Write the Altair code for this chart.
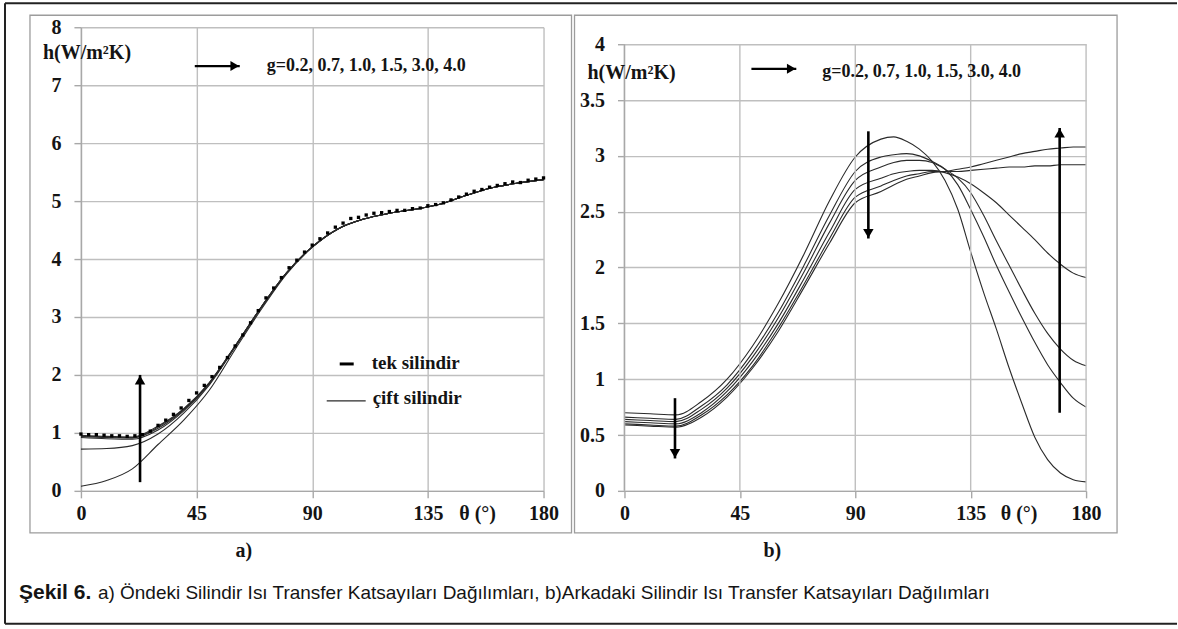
import altair as alt
import pandas as pd

SERIF = "Liberation Serif"
SANS = "Liberation Sans"
INK = "#141414"
CURVE = "#2a2a2a"
GRID = "#bfbfbf"
AXC = "#a8a8a8"
FRAME = "#9c9c9c"

G_VALUES = ["0.2", "0.7", "1.0", "1.5", "3.0", "4.0"]
X_TICKS = [0, 45, 90, 135, 180]
A_Y_TICKS = [0, 1, 2, 3, 4, 5, 6, 7, 8]
B_Y_TICKS = [0, 0.5, 1, 1.5, 2, 2.5, 3, 3.5, 4]

# ---------------- panel a) front cylinder ----------------
A_THETA = [0, 10, 20, 30, 40, 50, 60, 70, 80, 90, 100, 110, 120, 130, 140, 150, 160, 170, 180]
A_H_G02 = [0.08, 0.18, 0.38, 0.80, 1.22, 1.74, 2.44, 3.12, 3.74, 4.20, 4.52, 4.69, 4.79, 4.86, 4.95, 5.10, 5.23, 5.31, 5.37]
A_H_G07 = [0.72, 0.73, 0.78, 0.98, 1.34, 1.83, 2.48, 3.15, 3.76, 4.21, 4.52, 4.69, 4.79, 4.86, 4.95, 5.10, 5.23, 5.31, 5.37]
A_H_G10 = [0.92, 0.90, 0.89, 1.05, 1.38, 1.85, 2.49, 3.16, 3.76, 4.21, 4.52, 4.69, 4.79, 4.86, 4.95, 5.10, 5.23, 5.31, 5.37]
A_H_G15 = [0.94, 0.92, 0.91, 1.08, 1.40, 1.86, 2.50, 3.16, 3.76, 4.21, 4.52, 4.69, 4.79, 4.86, 4.95, 5.10, 5.23, 5.31, 5.37]
A_H_G30 = [0.95, 0.93, 0.92, 1.10, 1.41, 1.87, 2.50, 3.16, 3.76, 4.21, 4.52, 4.69, 4.79, 4.86, 4.95, 5.10, 5.23, 5.31, 5.37]
A_H_G40 = [0.96, 0.94, 0.93, 1.12, 1.42, 1.87, 2.50, 3.16, 3.76, 4.21, 4.52, 4.69, 4.79, 4.86, 4.95, 5.10, 5.23, 5.31, 5.37]

TEK_THETA = [0, 3, 6, 9, 12, 15, 18, 21, 24, 27, 30, 33, 36, 39, 42, 45, 48, 51, 54, 57, 60,
             63, 66, 69, 72, 75, 78, 81, 84, 87, 90, 93, 96, 99, 102, 105, 108, 111, 114, 117, 120,
             123, 126, 129, 132, 135, 138, 141, 144, 147, 150, 153, 156, 159, 162, 165, 168, 171, 174, 177, 180]
TEK_H = [0.98, 0.97, 0.97, 0.96, 0.95, 0.95, 0.94, 0.95, 0.97, 1.03, 1.13, 1.22, 1.32, 1.43, 1.56, 1.69, 1.82, 1.97, 2.13, 2.30, 2.50,
         2.69, 2.90, 3.11, 3.33, 3.50, 3.68, 3.85, 3.98, 4.12, 4.24, 4.35, 4.45, 4.55, 4.62, 4.70, 4.72, 4.76, 4.79, 4.80, 4.82,
         4.84, 4.84, 4.87, 4.88, 4.92, 4.94, 4.97, 5.02, 5.07, 5.12, 5.17, 5.20, 5.24, 5.27, 5.30, 5.33, 5.32, 5.36, 5.38, 5.40]

# ---------------- panel b) rear cylinder ----------------
B_THETA = [0, 10, 20, 30, 40, 50, 60, 70, 80, 90, 100, 105, 110, 115, 120, 125, 130, 135, 140, 145, 150, 155, 160, 165, 170, 175, 180]
B_H_G02 = [0.70, 0.69, 0.68, 0.80, 1.00, 1.30, 1.68, 2.12, 2.60, 2.99, 3.15, 3.17, 3.13, 3.06, 2.95, 2.78, 2.52, 2.14, 1.78, 1.45, 1.10, 0.78, 0.48, 0.28, 0.16, 0.10, 0.08]
B_H_G07 = [0.66, 0.65, 0.64, 0.76, 0.95, 1.24, 1.60, 2.02, 2.47, 2.86, 2.99, 3.01, 3.02, 3.00, 2.95, 2.88, 2.74, 2.52, 2.28, 2.02, 1.78, 1.55, 1.33, 1.13, 0.97, 0.83, 0.75]
B_H_G10 = [0.64, 0.63, 0.62, 0.73, 0.92, 1.20, 1.55, 1.96, 2.40, 2.78, 2.90, 2.94, 2.96, 2.96, 2.94, 2.88, 2.80, 2.67, 2.47, 2.24, 2.02, 1.80, 1.59, 1.41, 1.27, 1.17, 1.12]
B_H_G15 = [0.62, 0.61, 0.60, 0.70, 0.89, 1.16, 1.50, 1.90, 2.32, 2.70, 2.80, 2.84, 2.86, 2.87, 2.87, 2.85, 2.81, 2.75, 2.67, 2.58, 2.47, 2.36, 2.25, 2.13, 2.03, 1.95, 1.91]
B_H_G30 = [0.60, 0.59, 0.58, 0.68, 0.86, 1.12, 1.46, 1.85, 2.26, 2.63, 2.73, 2.78, 2.82, 2.84, 2.86, 2.86, 2.86, 2.87, 2.88, 2.89, 2.90, 2.90, 2.91, 2.91, 2.92, 2.92, 2.92]
B_H_G40 = [0.59, 0.58, 0.57, 0.66, 0.84, 1.10, 1.43, 1.82, 2.22, 2.58, 2.68, 2.74, 2.79, 2.82, 2.85, 2.86, 2.88, 2.90, 2.93, 2.96, 2.99, 3.02, 3.04, 3.06, 3.07, 3.08, 3.08]

# arrows (tail -> tip)
A_VARROW_THETA = [23]
A_VARROW_TAIL = [0.15]
A_VARROW_TIP = [2.0]
A_HARROW = {"theta": [44.3], "theta2": [61.8], "h": [7.33]}
B_VARROW_THETA = [19.7, 95.1, 169.7]
B_VARROW_TAIL = [0.83, 3.22, 0.70]
B_VARROW_TIP = [0.29, 2.26, 3.25]
B_HARROW = {"theta": [49.5], "theta2": [67.0], "h": [3.78]}

G_TEXT = "g=0.2, 0.7, 1.0, 1.5, 3.0, 4.0"
A_GTEXT_POS = (72.3, 7.33)
B_GTEXT_POS = (77.1, 3.75)
Y_TITLE = "h(W/m\u00b2K)"
CAPTION_BOLD = "\u015eekil 6."
CAPTION_REST = ("a) \u00d6ndeki Silindir Is\u0131 Transfer Katsay\u0131lar\u0131 Da\u011f\u0131l\u0131mlar\u0131, "
                "b)Arkadaki Silindir Is\u0131 Transfer Katsay\u0131lar\u0131 Da\u011f\u0131l\u0131mlar\u0131")

A_W, A_H = 463, 464
B_W, B_H = 462, 464
A_YMAX = 8
B_YMAX = 4.152  # top of plot area above the 4 gridline

ONE = pd.DataFrame({"k": [0]})


def long_df(theta, series):
    rows = []
    for g, vals in zip(G_VALUES, series):
        for t, h in zip(theta, vals):
            rows.append({"theta": t, "h": h, "g": g})
    return pd.DataFrame(rows)


def x_axis(grid):
    return alt.Axis(values=X_TICKS, grid=grid, gridColor=GRID, gridWidth=1.4,
                    domain=True, domainColor=AXC, domainWidth=1.4,
                    ticks=True, tickColor=AXC, tickSize=7, tickWidth=1.4,
                    labelFont=SERIF, labelFontSize=20, labelFontWeight="bold",
                    labelColor=INK, labelPadding=6, labelAngle=0, labelOverlap=False,
                    labelFlush=False, title=None)


def y_axis(values, domain):
    return alt.Axis(values=values, grid=True, gridColor=GRID, gridWidth=1.4,
                    domain=domain, domainColor=AXC, domainWidth=1.4,
                    ticks=True, tickColor=AXC, tickSize=7, tickWidth=1.4,
                    labelFont=SERIF, labelFontSize=20, labelFontWeight="bold",
                    labelColor=INK, labelPadding=13, labelOverlap=False,
                    labelExpr="'' + datum.value", title=None)


def txt(text, x, y, size=20, font=SERIF, weight="bold", align="left"):
    return alt.Chart(ONE).mark_text(text=text, font=font, fontSize=size, fontWeight=weight,
                                    color=INK, align=align, baseline="middle").encode(
        x=alt.value(x), y=alt.value(y))


def frame(x, y, x2, y2):
    return alt.Chart(ONE).mark_rect(fill=None, stroke=FRAME, strokeWidth=1.3).encode(
        x=alt.value(x), x2=alt.value(x2), y=alt.value(y), y2=alt.value(y2))


def vert_arrows(theta, tail, tip, xs, ys, ax, ay):
    df = pd.DataFrame({"theta": theta, "tail": tail, "tip": tip})
    df["dir"] = ["up" if b > a else "down" for a, b in zip(tail, tip)]
    rule = alt.Chart(df).mark_rule(color="black", strokeWidth=2.6).encode(
        x=alt.X("theta:Q", scale=xs, axis=ax),
        y=alt.Y("tail:Q", scale=ys, axis=ay), y2="tip:Q")
    layers = [rule]
    for d, shape, off in (("up", "triangle-up", 5), ("down", "triangle-down", -5)):
        sub = df[df["dir"] == d]
        if len(sub):
            layers.append(alt.Chart(sub).mark_point(
                shape=shape, filled=True, color="black", opacity=1, size=110, yOffset=off).encode(
                x=alt.X("theta:Q", scale=xs, axis=ax), y=alt.Y("tip:Q", scale=ys, axis=ay)))
    return layers


def horiz_arrow(spec, xs, ys, ax, ay):
    df = pd.DataFrame(spec)
    rule = alt.Chart(df).mark_rule(color="black", strokeWidth=2.2).encode(
        x=alt.X("theta:Q", scale=xs, axis=ax), x2="theta2:Q",
        y=alt.Y("h:Q", scale=ys, axis=ay))
    head = alt.Chart(df).mark_point(shape="triangle-right", filled=True, color="black",
                                    opacity=1, size=100, xOffset=-5).encode(
        x=alt.X("theta2:Q", scale=xs, axis=ax), y=alt.Y("h:Q", scale=ys, axis=ay))
    return [rule, head]


def gtext(pos, xs, ys, ax, ay):
    df = pd.DataFrame({"theta": [pos[0]], "h": [pos[1]]})
    return alt.Chart(df).mark_text(text=G_TEXT, font=SERIF, fontSize=18, fontWeight="bold",
                                   color=INK, align="left", baseline="middle").encode(
        x=alt.X("theta:Q", scale=xs, axis=ax), y=alt.Y("h:Q", scale=ys, axis=ay))


# ---------------- build panel a ----------------
xs_a = alt.Scale(domain=[0, 180], nice=False, zero=False)
ys_a = alt.Scale(domain=[0, A_YMAX], nice=False, zero=False)
ax_a = x_axis(True)
ay_a = y_axis(A_Y_TICKS, True)

a_lines_df = long_df(A_THETA, [A_H_G02, A_H_G07, A_H_G10, A_H_G15, A_H_G30, A_H_G40])
a_lines = alt.Chart(a_lines_df).mark_line(interpolate="monotone", color=CURVE, strokeWidth=1.1).encode(
    x=alt.X("theta:Q", scale=xs_a, axis=ax_a),
    y=alt.Y("h:Q", scale=ys_a, axis=ay_a),
    detail="g:N")
tek_df = pd.DataFrame({"theta": TEK_THETA, "h": TEK_H})
tek = alt.Chart(tek_df).mark_point(filled=True, color="black", opacity=1, size=11, shape="square").encode(
    x=alt.X("theta:Q", scale=xs_a, axis=ax_a), y=alt.Y("h:Q", scale=ys_a, axis=ay_a))

# canvas-wide invisible box (defines 1178x629 drawing bounds), borders, frames
canvas = alt.Chart(ONE).mark_rect(opacity=0, fillOpacity=0, strokeWidth=0).encode(
    x=alt.value(-81), x2=alt.value(1097), y=alt.value(-27), y2=alt.value(602))
border_left = alt.Chart(ONE).mark_rule(color="#222222", strokeWidth=2).encode(
    x=alt.value(-76), y=alt.value(-24), y2=alt.value(597))
border_top = alt.Chart(ONE).mark_rule(color="#222222", strokeWidth=2).encode(
    x=alt.value(-76), x2=alt.value(1097), y=alt.value(-24))
border_bottom = alt.Chart(ONE).mark_rule(color="#222222", strokeWidth=2).encode(
    x=alt.value(-76), x2=alt.value(1097), y=alt.value(597))

legend_tek_mark = alt.Chart(ONE).mark_rule(color="black", strokeWidth=3).encode(
    x=alt.value(259), x2=alt.value(273), y=alt.value(337))
legend_cift_line = alt.Chart(ONE).mark_rule(color=CURVE, strokeWidth=1.3).encode(
    x=alt.value(246), x2=alt.value(285), y=alt.value(374))

left = alt.layer(
    a_lines, tek,
    canvas, frame(-51, -12, 491, 506), border_left, border_top, border_bottom,
    *vert_arrows(A_VARROW_THETA, A_VARROW_TAIL, A_VARROW_TIP, xs_a, ys_a, ax_a, ay_a),
    *horiz_arrow(A_HARROW, xs_a, ys_a, ax_a, ay_a),
    gtext(A_GTEXT_POS, xs_a, ys_a, ax_a, ay_a),
    txt(Y_TITLE, -38, 26),
    legend_tek_mark, txt("tek silindir", 291, 336, size=19),
    legend_cift_line, txt("\u00e7ift silindir", 292, 371, size=19),
    txt("\u03b8 (\u00b0)", 397, 487, align="center"),
    txt("a)", 163, 524, align="center"),
    txt(CAPTION_BOLD, -62, 566, size=21, font=SANS, weight="bold"),
    txt(CAPTION_REST, 17, 566, size=19, font=SANS, weight="normal"),
).properties(width=A_W, height=A_H)

# ---------------- build panel b ----------------
xs_b = alt.Scale(domain=[0, 180], nice=False, zero=False)
ys_b = alt.Scale(domain=[0, B_YMAX], nice=False, zero=False)
ax_b = x_axis(False)
ay_b = y_axis(B_Y_TICKS, False)

b_lines_df = long_df(B_THETA, [B_H_G02, B_H_G07, B_H_G10, B_H_G15, B_H_G30, B_H_G40])
b_lines = alt.Chart(b_lines_df).mark_line(interpolate="monotone", color=CURVE, strokeWidth=1.1).encode(
    x=alt.X("theta:Q", scale=xs_b, axis=ax_b),
    y=alt.Y("h:Q", scale=ys_b, axis=ay_b),
    detail="g:N")
b_vgrid = alt.Chart(pd.DataFrame({"theta": X_TICKS, "h": [0] * 5, "hi": [4] * 5})).mark_rule(
    color=GRID, strokeWidth=1.4).encode(
    x=alt.X("theta:Q", scale=xs_b, axis=ax_b), y=alt.Y("h:Q", scale=ys_b, axis=ay_b), y2="hi:Q")
b_axisline = alt.Chart(pd.DataFrame({"theta": [0], "h": [0], "hi": [4]})).mark_rule(
    color=AXC, strokeWidth=1.4).encode(
    x=alt.X("theta:Q", scale=xs_b, axis=ax_b), y=alt.Y("h:Q", scale=ys_b, axis=ay_b), y2="hi:Q")

right = alt.layer(
    b_lines, frame(-50, -12, 493, 506),
    b_vgrid, b_axisline,
    *vert_arrows(B_VARROW_THETA, B_VARROW_TAIL, B_VARROW_TIP, xs_b, ys_b, ax_b, ay_b),
    *horiz_arrow(B_HARROW, xs_b, ys_b, ax_b, ay_b),
    gtext(B_GTEXT_POS, xs_b, ys_b, ax_b, ay_b),
    txt(Y_TITLE, -37, 46),
    txt("\u03b8 (\u00b0)", 395, 487, align="center"),
    txt("b)", 148, 524, align="center"),
).properties(width=B_W, height=B_H)

chart = alt.hconcat(left, right, spacing=81, bounds="flush").properties(
    padding=0, background="white").configure_view(stroke=None)

chart.save("out.html", embed_options={"renderer": "svg", "actions": False})
